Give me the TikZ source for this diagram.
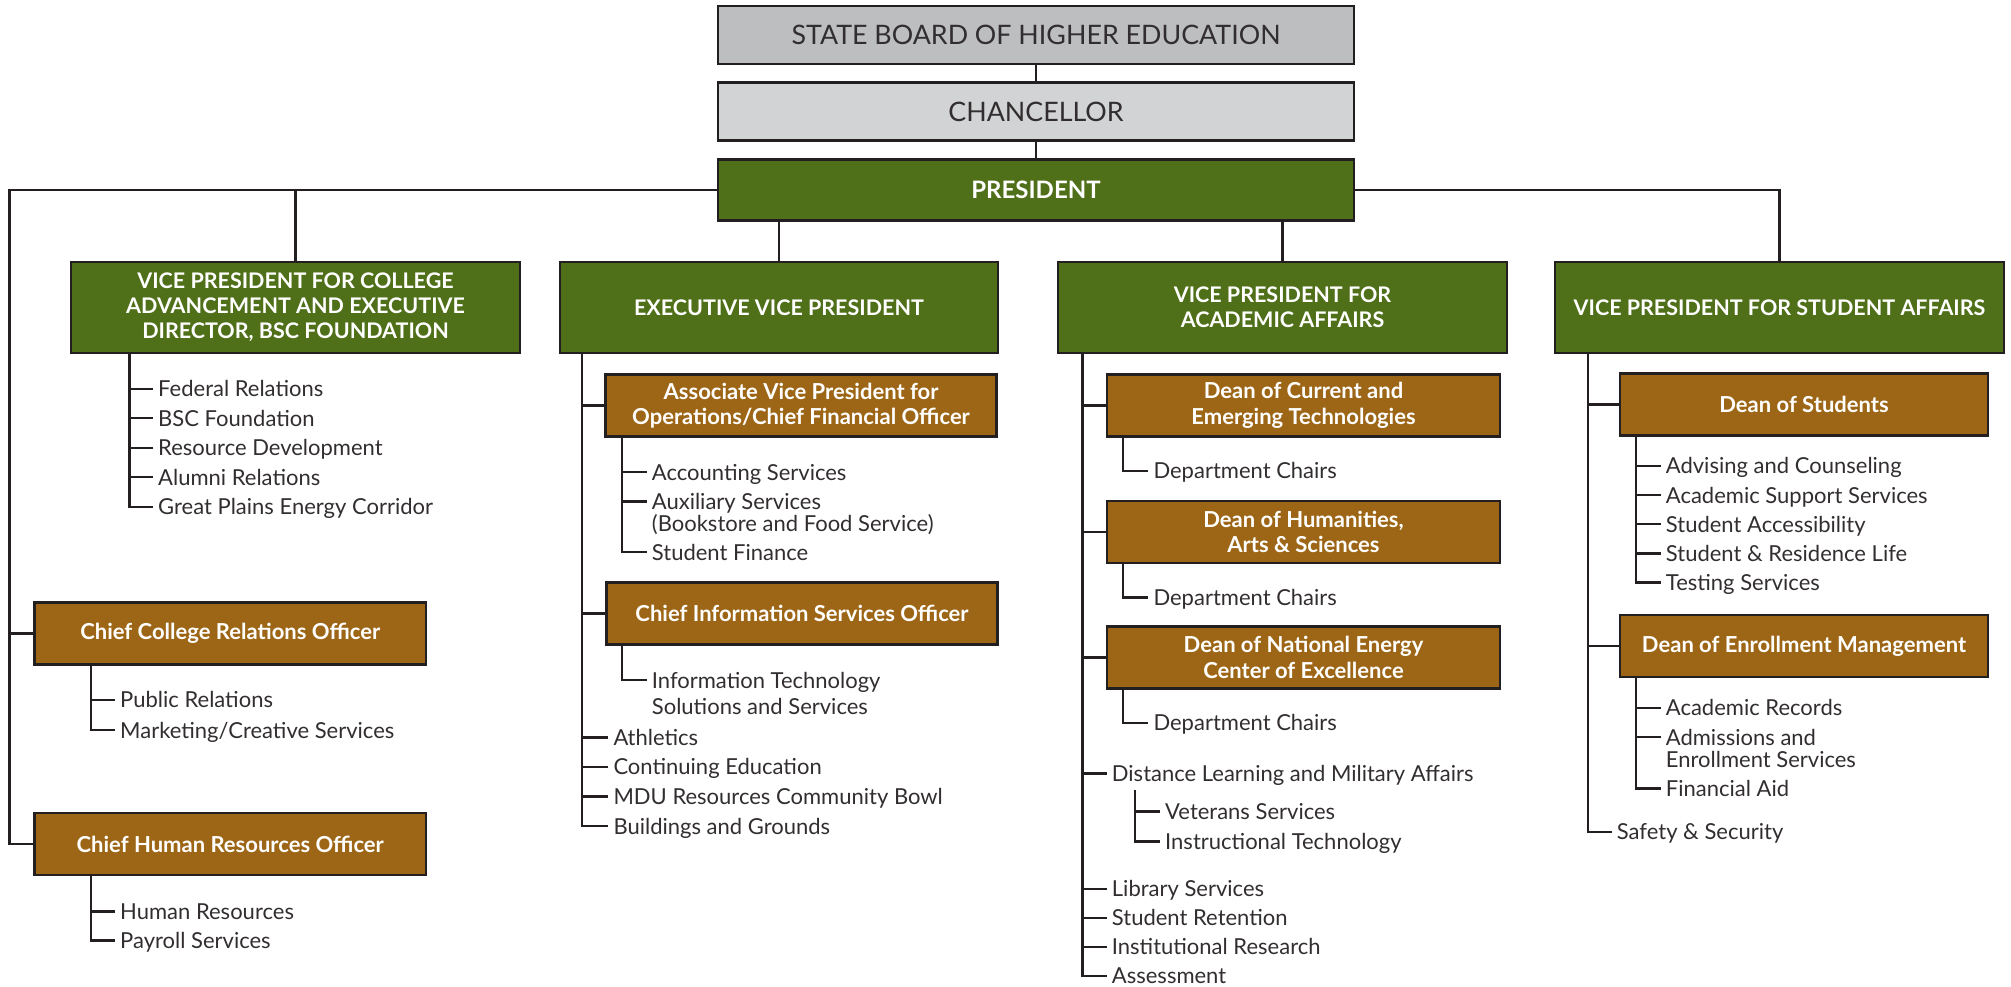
\documentclass[tikz,border=0pt]{standalone}
\usepackage{fontspec}
\setmainfont{Lato}
\usetikzlibrary{positioning}
\definecolor{bscgreen}{RGB}{79,111,25}
\definecolor{bscbrown}{RGB}{157,102,22}
\definecolor{boardgray}{RGB}{188,190,192}
\definecolor{changray}{RGB}{209,211,212}
\definecolor{inkline}{RGB}{35,31,32}
\definecolor{inktext}{RGB}{50,46,47}
\tikzset{
  topbox/.style={draw=inkline, line width=2.6pt, minimum width=636pt, minimum height=58pt,
    text=inktext, font=\fontsize{26.8}{30}\selectfont},
  vpbox/.style={draw=inkline, line width=2.6pt, fill=bscgreen, text=white, minimum height=91pt,
    align=center, font=\fontsize{21.5}{25}\selectfont\bfseries},
  unitbox/.style={draw=inkline, line width=2.6pt, fill=bscbrown, text=white, minimum height=62pt,
    align=center, font=\fontsize{22}{25.5}\selectfont\bfseries},
  item/.style={anchor=west, inner xsep=5pt, inner ysep=0pt, text height=16pt, text depth=0pt,
    text=inktext, font=\fontsize{22}{22}\selectfont},
  link/.style={draw=inkline, line width=2.4pt},
}
\begin{document}
\begin{tikzpicture}[x=1pt, y=-1pt]
  \useasboundingbox (0,0) rectangle (2011,987);

  \node[topbox, fill=boardgray] (board) at (1036,35) {STATE BOARD OF HIGHER EDUCATION};
  \node[topbox, fill=changray] (chan) at (1036,111.5) {CHANCELLOR};
  \node[topbox, fill=bscgreen, text=white, minimum height=61pt,
    font=\fontsize{24}{25}\selectfont\bfseries] (pres) at (1036,190) {PRESIDENT};
  \draw[link, line width=2pt] (board) -- (chan);
  \draw[link, line width=2pt] (chan) -- (pres);

  \node[vpbox, minimum width=449pt] (vpca) at (295.5,307.5)
    {VICE PRESIDENT FOR COLLEGE\\ADVANCEMENT AND EXECUTIVE\\DIRECTOR, BSC FOUNDATION};
  \node[vpbox, minimum width=438pt] (evp) at (779,307.5) {EXECUTIVE VICE PRESIDENT};
  \node[vpbox, minimum width=449pt] (vpaa) at (1282.5,307.5) {VICE PRESIDENT FOR\\ACADEMIC AFFAIRS};
  \node[vpbox, minimum width=449pt] (vpsa) at (1779.5,307.5) {VICE PRESIDENT FOR STUDENT AFFAIRS};

  \draw[link] (pres.west) -| (vpca.north);
  \draw[link] (pres.east) -| (vpsa.north);
  \draw[link] (evp.north) -- (evp.north |- pres.south);
  \draw[link] (vpaa.north) -- (vpaa.north |- pres.south);

  % college advancement
  \coordinate (rim) at (9.6,190);
  \node[unitbox, minimum width=391.6pt] (ccro) at (230.2,633.5) {Chief College Relations Officer};
  \node[unitbox, minimum width=391.6pt] (chro) at (230.2,844) {Chief Human Resources Officer};
  \draw[link] (pres.west) -- (rim) |- (chro.west);
  \draw[link] (rim) |- (ccro.west);

  \coordinate (caS) at (129.4,353);
  \foreach \t [count=\i] in {Federal Relations, BSC Foundation, Resource Development,
      Alumni Relations, Great Plains Energy Corridor}
    \node[item] (ca\i) at (153,359.2+29.5*\i) {\t};
  \draw[link] (caS) |- (ca5.west);
  \foreach \i in {1,...,4}
    \draw[link] (ca\i.west) -- (ca\i.west -| caS);

  \coordinate (unD) at (91,0);
  \node[item] (cr1) at (115,699.8) {Public Relations};
  \node[item] (cr2) at (115,730) {Marketing/Creative Services};
  \draw[link] (ccro.south -| unD) |- (cr2.west);
  \draw[link] (cr1.west) -- (cr1.west -| unD);
  \node[item] (hr1) at (115,911.5) {Human Resources};
  \node[item] (hr2) at (115,940.4) {Payroll Services};
  \draw[link] (chro.south -| unD) |- (hr2.west);
  \draw[link] (hr1.west) -- (hr1.west -| unD);

  % executive vice president
  \coordinate (evS) at (581.7,353);
  \coordinate (evD) at (621.7,0);
  \node[unitbox, minimum width=391pt] (avp) at (801,405.5)
    {Associate Vice President for\\Operations/Chief Financial Officer};
  \node[unitbox, minimum width=391pt] (ciso) at (802,613.3) {Chief Information Services Officer};
  \draw[link] (avp.west) -- (avp.west -| evS);
  \draw[link] (ciso.west) -- (ciso.west -| evS);

  \node[item] (av1) at (646.7,472) {Accounting Services};
  \node[item] (av2) at (646.7,501.3) {Auxiliary Services};
  \node[item, below=6pt of av2.south west, anchor=north west] (av2b) {(Bookstore and Food Service)};
  \node[item] (av3) at (646.7,552) {Student Finance};
  \draw[link] (avp.south -| evD) |- (av3.west);
  \foreach \i in {1,2}
    \draw[link] (av\i.west) -- (av\i.west -| evD);

  \node[item] (ci1) at (646.7,680) {Information Technology};
  \node[item, below=9.7pt of ci1.south west, anchor=north west] (ci1b) {Solutions and Services};
  \draw[link] (ciso.south -| evD) |- (ci1.west);

  \foreach \t [count=\i] in {Athletics, Continuing Education, MDU Resources Community Bowl,
      Buildings and Grounds}
    \node[item] (ev\i) at (608.3,707.7+29.6*\i) {\t};
  \draw[link] (evS) |- (ev4.west);
  \foreach \i in {1,2,3}
    \draw[link] (ev\i.west) -- (ev\i.west -| evS);

  % academic affairs
  \coordinate (aaS) at (1082.3,353);
  \coordinate (aaD) at (1122.7,0);
  \foreach \n/\y/\t in {dcet/405.4/{Dean of Current and\\Emerging Technologies},
      dhas/532/{Dean of Humanities,\\Arts \& Sciences},
      dnec/657.3/{Dean of National Energy\\Center of Excellence}} {
    \node[unitbox, minimum width=393pt] (\n) at (1303.5,\y) {\t};
    \draw[link] (\n.west) -- (\n.west -| aaS);
    \node[item] (\n-dc) at (1148.3,\y+65.5) {Department Chairs};
    \draw[link] (\n.south -| aaD) |- (\n-dc.west);
  }

  \node[item] (dl) at (1106.7,773.3) {Distance Learning and Military Affairs};
  \coordinate (dlS) at (1134.7,789.8);
  \node[item] (dl1) at (1160,811.6) {Veterans Services};
  \node[item] (dl2) at (1160,841.3) {Instructional Technology};
  \draw[link] (dlS) |- (dl2.west);
  \draw[link] (dl1.west) -- (dl1.west -| dlS);

  \foreach \t [count=\i] in {Library Services, Student Retention, Institutional Research, Assessment}
    \node[item] (aa\i) at (1106.7,859.8+29*\i) {\t};
  \draw[link] (aaS) |- (aa4.west);
  \foreach \n in {dl,aa1,aa2,aa3}
    \draw[link] (\n.west) -- (\n.west -| aaS);

  % student affairs
  \coordinate (saS) at (1587.7,353);
  \coordinate (saD) at (1636,0);
  \node[unitbox, minimum width=368pt] (dos) at (1804,404.4) {Dean of Students};
  \node[unitbox, minimum width=368pt] (dem) at (1804,646) {Dean of Enrollment Management};
  \draw[link] (dos.west) -- (dos.west -| saS);
  \draw[link] (dem.west) -- (dem.west -| saS);

  \foreach \t [count=\i] in {Advising and Counseling, Academic Support Services,
      Student Accessibility, Student \& Residence Life, Testing Services}
    \node[item] (ds\i) at (1660.7,436.6+29.2*\i) {\t};
  \draw[link] (dos.south -| saD) |- (ds5.west);
  \foreach \i in {1,...,4}
    \draw[link] (ds\i.west) -- (ds\i.west -| saD);

  \node[item] (de1) at (1660.7,707.8) {Academic Records};
  \node[item] (de2) at (1660.7,737.2) {Admissions and};
  \node[item, below=6pt of de2.south west, anchor=north west] (de2b) {Enrollment Services};
  \node[item] (de3) at (1660.7,788.3) {Financial Aid};
  \draw[link] (dem.south -| saD) |- (de3.west);
  \foreach \i in {1,2}
    \draw[link] (de\i.west) -- (de\i.west -| saD);

  \node[item] (ss) at (1611.7,831.9) {Safety \& Security};
  \draw[link] (saS) |- (ss.west);
\end{tikzpicture}
\end{document}
